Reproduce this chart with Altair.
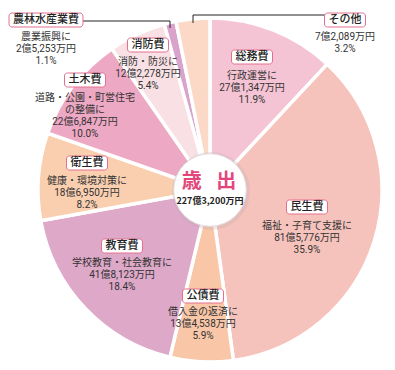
import altair as alt
import pandas as pd
import math

# ---- data ----
categories = ["総務費", "民生費", "公債費", "教育費", "衛生費", "土木費", "消防費", "農林水産業費", "その他"]
amounts_man = [271347, 815776, 134538, 418123, 186950, 226847, 122278, 25253, 72089]
amount_labels = ["27億1,347万円", "81億5,776万円", "13億4,538万円", "41億8,123万円", "18億6,950万円",
                 "22億6,847万円", "12億2,278万円", "2億5,253万円", "7億2,089万円"]
percent_labels = ["11.9%", "35.9%", "5.9%", "18.4%", "8.2%", "10.0%", "5.4%", "1.1%", "3.2%"]
descriptions = [["行政運営に"], ["福祉・子育て支援に"], ["借入金の返済に"], ["学校教育・社会教育に"],
                ["健康・環境対策に"], ["道路・公園・町営住宅", "の整備に"], ["消防・防災に"], ["農業振興に"], []]
total_title = "歳\u2002 出"
total_label = "227億3,200万円"

# ---- styles / layout ----
colors = ["#F5C4D4", "#F6C3BC", "#F9C6A8", "#DEA8C8", "#F9CFB0", "#EDA8C4", "#F8E0E4", "#D9A3CB", "#FCD9C6"]
CX, CY, R, R_IN = 202, 182, 172, 41
# label layout: (center x, box center y, first line y)
label_pos = {
    "総務費": (244, 49, 69),
    "民生費": (299, 199, 219),
    "公債費": (195, 288, 305),
    "教育費": (114, 238, 256),
    "衛生費": (79, 155, 174),
    "土木費": (77, 72, 91),
    "消防費": (140, 37, 55),
    "農林水産業費": (38, 12, 30),
    "その他": (337, 12, 30),
}
LINE_H = 12
FONT = "Noto Sans CJK JP"
BODY_FONT = "Roboto, Noto Sans CJK JP"

df = pd.DataFrame({"cat": categories, "amount": amounts_man, "idx": list(range(len(categories)))})

boxes, blocks = [], []
for i, c in enumerate(categories):
    x, by, ly = label_pos[c]
    w = 11 * len(c) + 8
    boxes.append({"x": x - w / 2, "x2": x + w / 2, "y": by - 7, "y2": by + 7, "tx": x, "ty": by, "t": c})
    body = descriptions[i] + [amount_labels[i], percent_labels[i]]
    blocks.append({"tx": x, "ty": ly - LINE_H / 2, "t": "\n".join(body)})
boxes = pd.DataFrame(boxes)
blocks = pd.DataFrame(blocks)

leaders = pd.DataFrame([
    {"x": 75, "x2": 162, "y": 13, "y2": 13},
    {"x": 162, "x2": 162, "y": 13, "y2": 20},
    {"x": 185, "x2": 317, "y": 7, "y2": 7},
    {"x": 185, "x2": 185, "y": 7, "y2": 15},
])

pie = alt.Chart(df).mark_arc(outerRadius=R, stroke="white", strokeWidth=3.5).encode(
    theta=alt.Theta("amount:Q", stack=True),
    order=alt.Order("idx:Q"),
    color=alt.Color("cat:N", scale=alt.Scale(domain=categories, range=colors), legend=None),
    x=alt.value(CX), y=alt.value(CY),
)

shadow = alt.Chart(pd.DataFrame({"a": [0]})).mark_circle(
    size=math.pi * (R_IN + 3) ** 2, fill="#b9a9ae", opacity=0.25, strokeWidth=0
).encode(x=alt.value(CX + 1), y=alt.value(CY + 1))

center = alt.Chart(pd.DataFrame({"a": [0]})).mark_circle(
    size=math.pi * R_IN * R_IN, fill="white", opacity=1, stroke="#e3dadd", strokeWidth=1
).encode(x=alt.value(CX), y=alt.value(CY))

center_title = alt.Chart(pd.DataFrame({"t": [total_title]})).mark_text(
    font=FONT, fontSize=20, fontWeight="bold", color="#E2467B", baseline="middle"
).encode(text="t:N", x=alt.value(CX - 1), y=alt.value(CY - 8))

center_sub = alt.Chart(pd.DataFrame({"t": [total_label]})).mark_text(
    font=FONT, fontSize=9, fontWeight="bold", color="#222", baseline="middle"
).encode(text="t:N", x=alt.value(CX), y=alt.value(CY + 11))

rules = alt.Chart(leaders).mark_rule(color="#222", strokeWidth=1).encode(
    x=alt.X("x:Q", scale=None), x2="x2:Q", y=alt.Y("y:Q", scale=None), y2="y2:Q"
)

box_rect = alt.Chart(boxes).mark_rect(fill="white", stroke="#E3708F", strokeWidth=1, cornerRadius=3).encode(
    x=alt.X("x:Q", scale=None), x2="x2:Q", y=alt.Y("y:Q", scale=None), y2="y2:Q"
)
box_text = alt.Chart(boxes).mark_text(font=FONT, fontSize=11, fontWeight=500, color="#222", baseline="middle").encode(
    x=alt.X("tx:Q", scale=None), y=alt.Y("ty:Q", scale=None), text="t:N"
)
body_text = alt.Chart(blocks).mark_text(
    font=BODY_FONT, fontSize=10, color="#333", baseline="top", lineBreak="\n", lineHeight=LINE_H
).encode(x=alt.X("tx:Q", scale=None), y=alt.Y("ty:Q", scale=None), text="t:N")

chart = alt.layer(pie, shadow, center, center_title, center_sub, rules, box_rect, box_text, body_text).properties(
    width=379, height=354, padding=0, autosize=alt.AutoSizeParams(type="none")
).configure_view(stroke=None)

chart.save("out.html", embed_options={"renderer": "svg", "actions": False})
